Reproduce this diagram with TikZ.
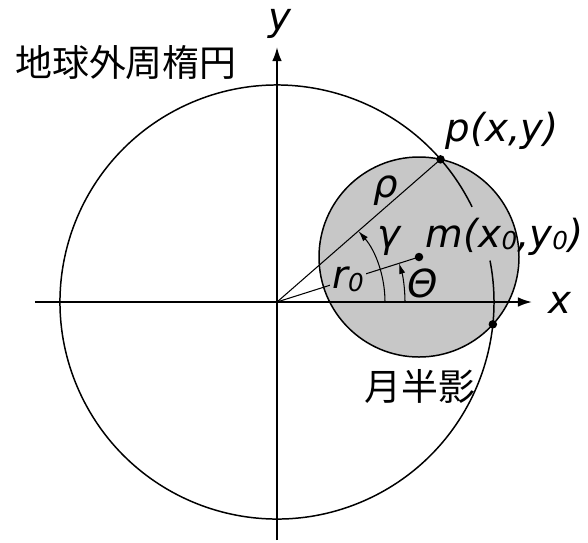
\documentclass[tikz,border=0pt]{standalone}
\usepackage{fontspec}
\setmainfont{DejaVu Sans}
\newfontfamily\cjk{Noto Sans CJK JP}
\usetikzlibrary{arrows.meta}
\definecolor{moonfill}{gray}{0.78}
\newcommand{\lo}[1]{\raisebox{-1.5pt}{\fontsize{14}{14}\selectfont #1}}

\begin{document}
\begin{tikzpicture}[%
      axis/.style={%
        line width = 1.1pt,
        -{Latex[length=8pt,width=5.5pt]},
      },
      rim/.style={line width=0.85pt},
      ray/.style={line width=0.6pt},
      angarrow/.style={%
        line width = 0.6pt,
        -{Latex[length=6pt,width=3.5pt]},
      },
      lbl/.style={font=\fontsize{22}{26}\selectfont\itshape, inner sep=0pt},
      jlbl/.style={font=\fontsize{21}{25}\selectfont\cjk, inner sep=0pt},
      dot/.style={circle, fill=black, inner sep=0pt, minimum size=0.17cm},
      ]
      \useasboundingbox (-5.54,-4.8) rectangle (6.22,6.04);

      \coordinate (O) at (0,0);
      \coordinate (m) at (2.84,0.90);
      \coordinate (p) at (41.1:4.34);
      \coordinate (q) at (-5.9:4.34);
      \coordinate (xl) at (-4.84,0);
      \coordinate (xr) at (5.1,0);
      \coordinate (yb) at (0,-4.76);
      \coordinate (yt) at (0,5.1);

      \fill[moonfill] (m) circle (2);
      \draw[rim] (m) circle (2);

      \draw[axis] (xl) -- (xr);
      \draw[axis] (yb) -- (yt);

      \draw[rim] (26:4.34) arc[start angle=26, end angle=371, radius=4.34];

      \draw[ray] (O) -- (p);
      \draw[ray] (O) -- node[lbl, fill=moonfill, inner sep=1pt] (r0lab) {r\lo{0}} (m);

      \draw[angarrow] (2.16,0) arc[start angle=0, end angle=41, radius=2.16];
      \draw[angarrow] (2.56,0) arc[start angle=0, end angle=17.6, radius=2.56];

      \node[dot] (pdot) at (p) {};
      \node[dot] (qdot) at (q) {};
      \node[dot] (mdot) at (m) {};

      \node[lbl] (ylab) at (0.06,5.56) {y};
      \node[lbl] (xlab) at (5.66,-0.02) {x};
      \node[jlbl] (earthlab) at (-3.02,4.78) {地球外周楕円};
      \node[lbl] (plab) at (4.5,3.42) {p(x,y)};
      \node[lbl] (mlab) at (4.55,1.31) {m(x\lo{0},y\lo{0})};
      \node[lbl] (rholab) at (2.18,2.22) {ρ};
      \node[lbl] (gammalab) at (2.24,1.22) {γ};
      \node[lbl] (thetalab) at (2.92,0.38) {Θ};
      \node[jlbl] (moonlab) at (2.86,-1.68) {月半影};

    \end{tikzpicture}
\end{document}
